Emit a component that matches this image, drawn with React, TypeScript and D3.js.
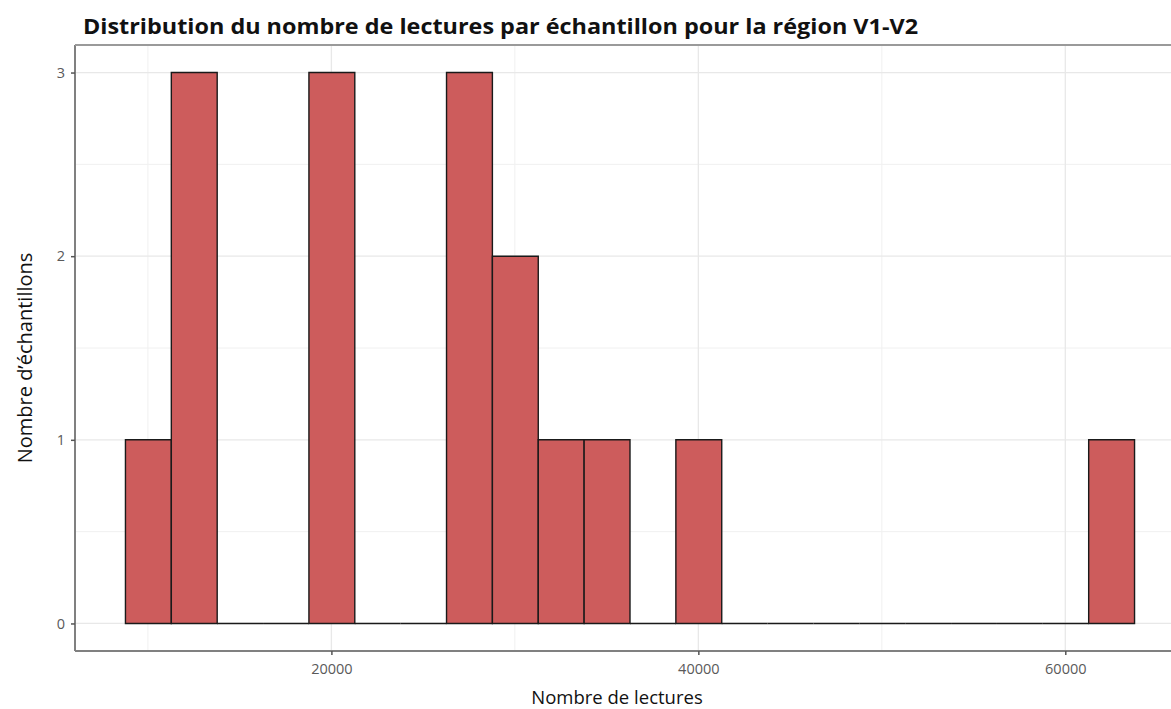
import * as d3 from "d3";
import React, { useEffect, useRef } from "react";

// histogram: 22 bins of width 2500 starting at 8775
const binStart = 8775;
const binWidth = 2500;
const counts = [1, 3, 0, 0, 3, 0, 0, 3, 2, 1, 1, 0, 1, 0, 0, 0, 0, 0, 0, 0, 0, 1];
const xMajor = [20000, 40000, 60000];
const xMinor = [10000, 30000, 50000];
const yMajor = [0, 1, 2, 3];
const yMinor = [0.5, 1.5, 2.5];

const title = "Distribution du nombre de lectures par échantillon pour la région V1-V2";
const xTitle = "Nombre de lectures";
const yTitle = "Nombre d\u2019échantillons";

export default function App() {
  const svgRef = useRef<SVGSVGElement | null>(null);

  useEffect(() => {
    const svg = d3.select(svgRef.current);
    svg.selectAll("*").remove();

    const W = 1171, H = 709;
    const left = 75, top = 45, bottom = 651, right = 1185;

    const lo = binStart, hi = binStart + binWidth * counts.length;
    const pad = (hi - lo) * 0.05;
    const x = d3.scaleLinear().domain([lo - pad, hi + pad]).range([left, right]);
    const yMax = d3.max(counts) ?? 1;
    const y = d3.scaleLinear().domain([-yMax * 0.05, yMax * 1.05]).range([bottom, top]);

    svg.append("rect").attr("width", W).attr("height", H).attr("fill", "white");

    const grid = svg.append("g");
    grid.selectAll("line.xmin").data(xMinor).join("line")
      .attr("x1", d => x(d)).attr("x2", d => x(d)).attr("y1", top).attr("y2", bottom)
      .attr("stroke", "#f0f0f0").attr("stroke-width", 1);
    grid.selectAll("line.ymin").data(yMinor).join("line")
      .attr("x1", left).attr("x2", right).attr("y1", d => y(d)).attr("y2", d => y(d))
      .attr("stroke", "#f0f0f0").attr("stroke-width", 1);
    grid.selectAll("line.xmaj").data(xMajor).join("line")
      .attr("x1", d => x(d)).attr("x2", d => x(d)).attr("y1", top).attr("y2", bottom)
      .attr("stroke", "#e8e8e8").attr("stroke-width", 1.3);
    grid.selectAll("line.ymaj").data(yMajor).join("line")
      .attr("x1", left).attr("x2", right).attr("y1", d => y(d)).attr("y2", d => y(d))
      .attr("stroke", "#e8e8e8").attr("stroke-width", 1.3);

    // bars (paths so empty bins still show as a baseline)
    svg.append("g").selectAll("path").data(counts).join("path")
      .attr("d", (c, i) => {
        const x0 = x(binStart + i * binWidth), x1 = x(binStart + (i + 1) * binWidth);
        return `M${x0},${y(0)}H${x1}V${y(c)}H${x0}Z`;
      })
      .attr("fill", "#CD5C5C")
      .attr("stroke", "#1a1a1a")
      .attr("stroke-width", 1.4);

    // panel lines
    const axisCol = "#808080";
    svg.append("line").attr("x1", left).attr("x2", left).attr("y1", top).attr("y2", bottom)
      .attr("stroke", axisCol).attr("stroke-width", 2);
    svg.append("line").attr("x1", left).attr("x2", W).attr("y1", bottom).attr("y2", bottom)
      .attr("stroke", axisCol).attr("stroke-width", 2);
    svg.append("line").attr("x1", left).attr("x2", W).attr("y1", top).attr("y2", top)
      .attr("stroke", "#9a9a9a").attr("stroke-width", 2);

    // axes
    const gx = svg.append("g").attr("transform", `translate(0,${bottom})`)
      .call(d3.axisBottom(x).tickValues(xMajor).tickFormat(d3.format("d")).tickSize(4).tickPadding(9));
    gx.select(".domain").remove();
    gx.selectAll(".tick line").attr("stroke", "#555").attr("stroke-width", 1.5);
    gx.selectAll("text").attr("fill", "#5a5a5a").attr("font-size", 14.5).attr("font-family", "'Open Sans', sans-serif");

    const gy = svg.append("g").attr("transform", `translate(${left},0)`)
      .call(d3.axisLeft(y).tickValues(yMajor).tickFormat(d3.format("d")).tickSize(4).tickPadding(6));
    gy.select(".domain").remove();
    gy.selectAll(".tick line").attr("stroke", "#555").attr("stroke-width", 1.5);
    gy.selectAll("text").attr("fill", "#5a5a5a").attr("font-size", 14.5).attr("font-family", "'Open Sans', sans-serif");

    // titles
    svg.append("text")
      .attr("x", 83).attr("y", 34)
      .attr("font-family", "'Open Sans', sans-serif")
      .attr("font-weight", 700)
      .attr("font-size", 22)
      .attr("textLength", 835)
      .attr("lengthAdjust", "spacingAndGlyphs")
      .attr("fill", "#111")
      .text(title);

    svg.append("text")
      .attr("x", 617).attr("y", 704)
      .attr("text-anchor", "middle")
      .attr("font-family", "'Open Sans', sans-serif")
      .attr("font-size", 18.5)
      .attr("fill", "#111")
      .text(xTitle);

    svg.append("text")
      .attr("transform", `translate(32,358) rotate(-90)`)
      .attr("text-anchor", "middle")
      .attr("font-family", "'Open Sans', sans-serif")
      .attr("font-size", 20)
      .attr("fill", "#111")
      .text(yTitle);
  }, []);

  return (
    <svg
      ref={svgRef}
      width={1171}
      height={709}
      style={{ position: "absolute", left: 0, top: 0, display: "block" }}
    />
  );
}
